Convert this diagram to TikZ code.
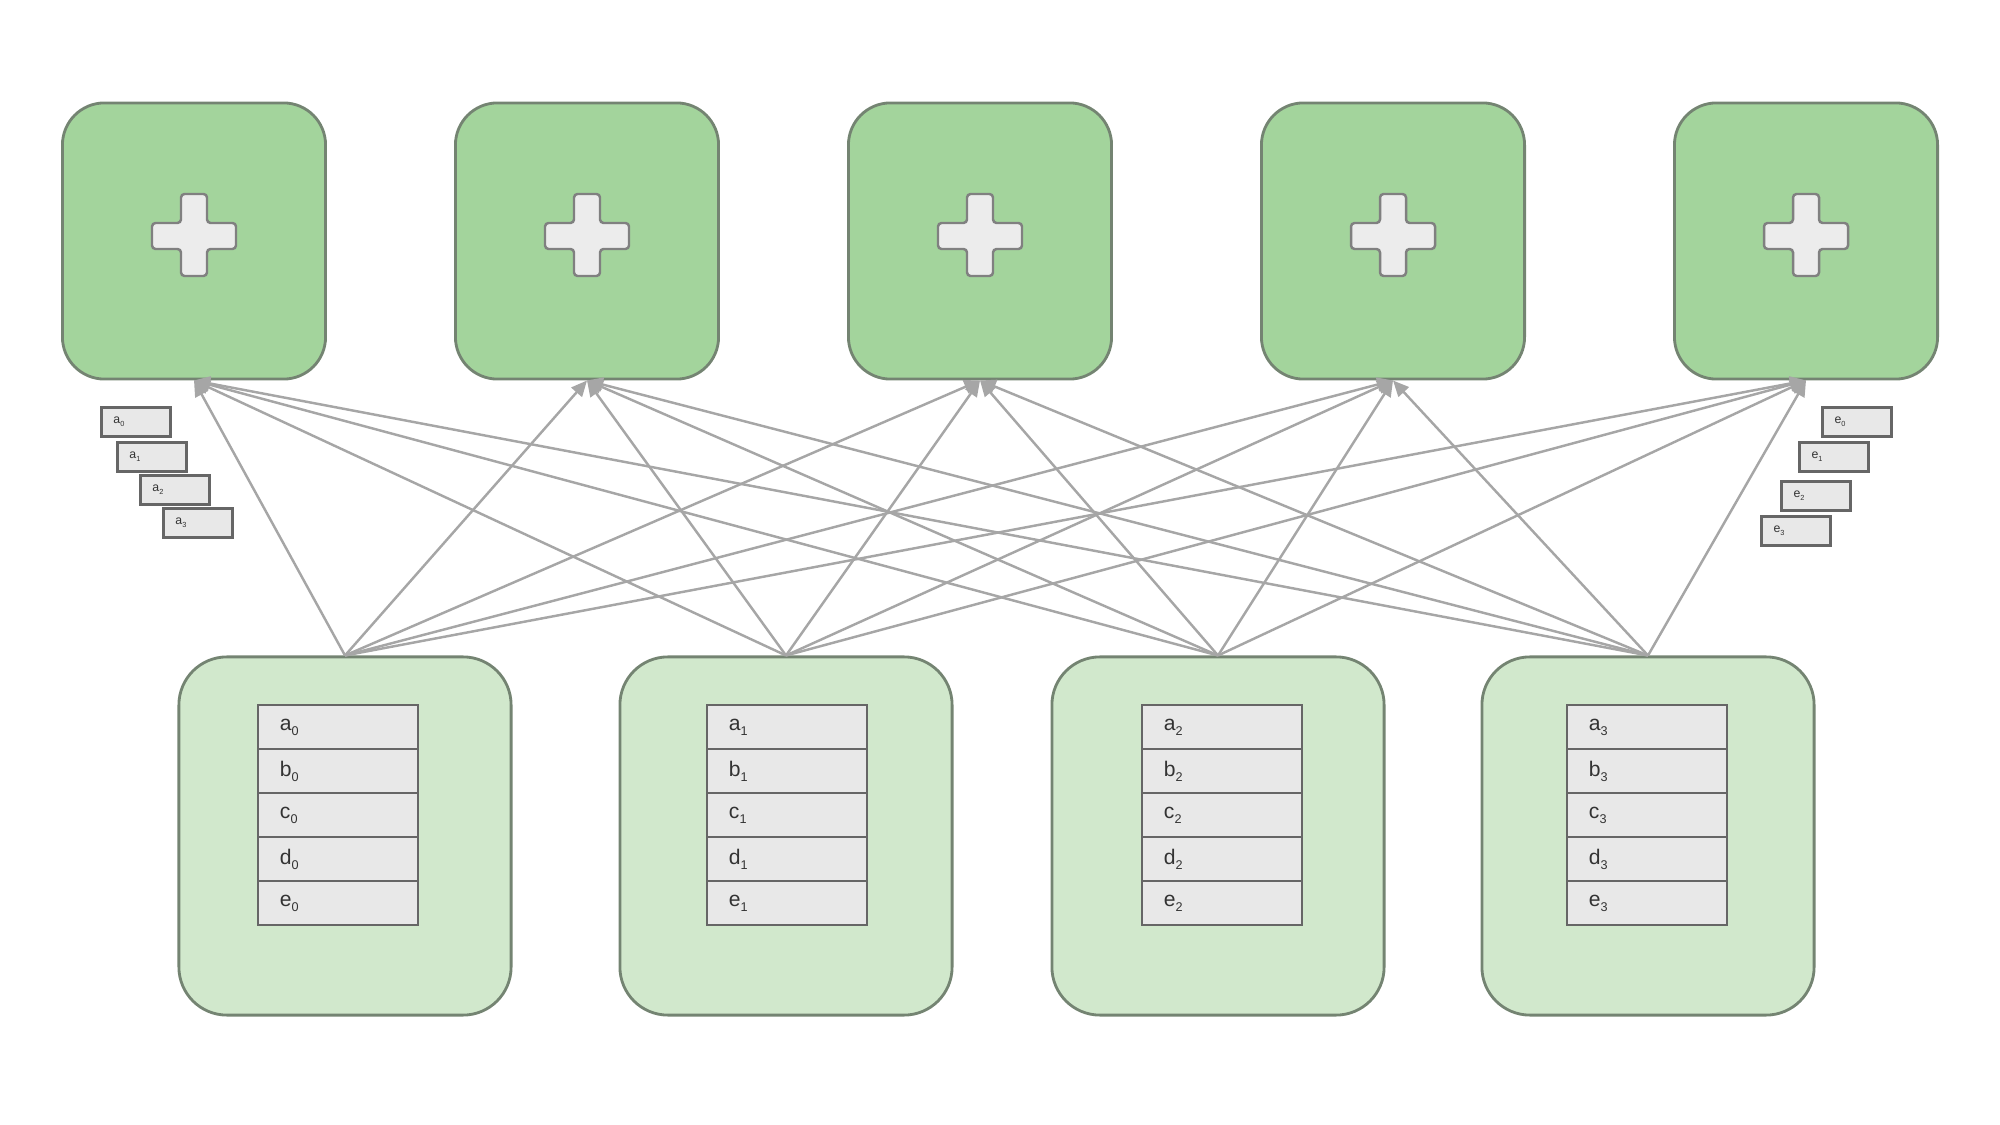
\documentclass[tikz,border=0pt]{standalone}
\usepackage{fontspec}
\setmainfont{Liberation Sans}
\usetikzlibrary{arrows.meta}
\definecolor{sumgreen}{HTML}{A3D49C}
\definecolor{partgreen}{HTML}{D1E8CC}
\definecolor{edgegray}{HTML}{748472}
\definecolor{cellgray}{HTML}{E8E8E8}
\definecolor{linkgray}{HTML}{A6A6A6}
\newcommand{\idx}[1]{\raisebox{-0.45ex}{\scalebox{0.6}{#1}}}

\begin{document}
\begin{tikzpicture}[x=0.01cm, y=-0.01cm,
    sumbox/.style={draw=edgegray, line width=0.8pt, fill=sumgreen, rounded corners=0.42cm,
        minimum width=2.63cm, minimum height=2.76cm, inner sep=0pt},
    partbox/.style={draw=edgegray, line width=0.8pt, fill=partgreen, rounded corners=0.48cm,
        minimum width=3.32cm, minimum height=3.58cm, inner sep=0pt},
    cell/.style={draw=black!60, line width=0.7pt, fill=cellgray, minimum height=0.44cm,
        text width=1.16cm, inner xsep=0.22cm, inner ysep=0pt, align=left,
        font=\fontsize{6}{7}\selectfont, text=black!80},
    chip/.style={draw=black!60, line width=0.7pt, fill=cellgray, minimum height=0.29cm,
        text width=0.45cm, inner xsep=0.12cm, inner ysep=0pt, align=left,
        font=\fontsize{3.5}{4}\selectfont, text=black!80},
    plussign/.style={draw=black!50, line width=0.7pt, fill=gray!15, rounded corners=1pt},
    link/.style={draw=linkgray, line width=0.7pt, -{Triangle[length=4.5pt,width=4pt]}}]
    \useasboundingbox (0,0) rectangle (2000,1125);

    % Sum nodes with a plus sign
    \foreach \i/\x in {0/194, 1/587, 2/980, 3/1393, 4/1806} {
        \node [sumbox] (sum\i) at (\x,241) {};
        \draw [plussign, shift={(sum\i.center)}] (-13,-47) -- (13,-47) -- (13,-18) -- (42,-18)
            -- (42,8) -- (13,8) -- (13,35) -- (-13,35) -- (-13,8) -- (-42,8) -- (-42,-18)
            -- (-13,-18) -- cycle;
    }

    % Part nodes with their cells
    \foreach \i/\x/\c in {0/345/338, 1/786/787, 2/1218/1222, 3/1648/1647} {
        \node [partbox] (part\i) at (\x,836) {};
        \foreach \r [count=\k from 0] in {a,b,c,d,e}
            \node [cell] (cell\i\r) at (\c,{727+44*\k}) {\r\idx{\i}};
    }

    % Chips beside the first and last sum
    \foreach \r/\x/\y in {0/136/422, 1/152/457, 2/175/490, 3/198/523}
        \node [chip] (chipa\r) at (\x,\y) {a\idx{\r}};
    \foreach \r/\x/\y in {0/1857/422, 1/1834/457, 2/1816/496, 3/1796/531}
        \node [chip] (chipe\r) at (\x,\y) {e\idx{\r}};

    % Links
    \foreach \s in {0,...,3}
        \foreach \t in {0,...,4}
            \draw [link] (part\s.north) -- (sum\t.south);
\end{tikzpicture}
\end{document}
